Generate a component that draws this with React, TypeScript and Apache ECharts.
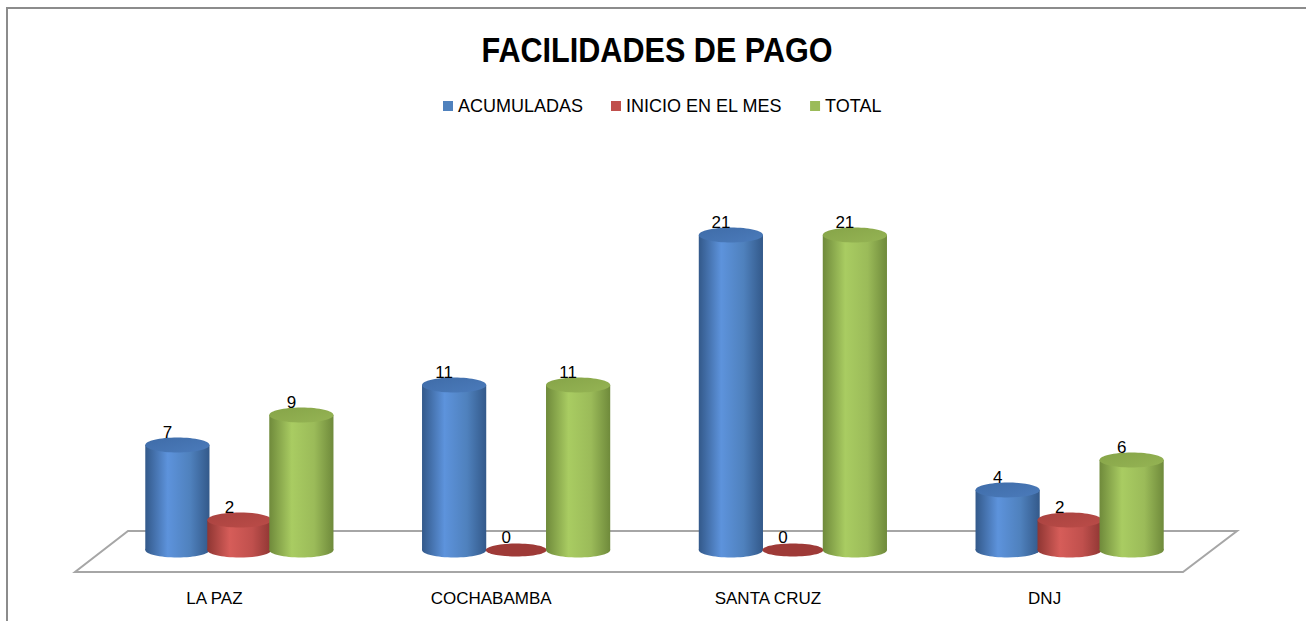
import React, { useEffect, useRef } from "react";
import * as echarts from "echarts";

const titleText = "FACILIDADES DE PAGO";
const categories = ["LA PAZ", "COCHABAMBA", "SANTA CRUZ", "DNJ"];
const seriesNames = ["ACUMULADAS", "INICIO EN EL MES", "TOTAL"];
const acumuladas = [7, 11, 21, 4];
const inicioEnElMes = [2, 0, 0, 2];
const total = [9, 11, 21, 6];

const seriesValues = [acumuladas, inicioEnElMes, total];

const palettes = [
  { base: "#4F81BD", light: "#5d93dc", dark: "#33598a", top: "#3f6ca8", topLight: "#4b7bbb", zero: "#3a64a0" },
  { base: "#C0504D", light: "#d65d59", dark: "#8f3633", top: "#a8423f", topLight: "#bb4c48", zero: "#9e3a37" },
  { base: "#9BBB59", light: "#a9cc62", dark: "#6f8a3b", top: "#86a448", topLight: "#95b454", zero: "#7f9a44" },
];

const FONT = "'Liberation Sans', Arial, sans-serif";

function makeRenderItem(s: number) {
  const p = palettes[s];
  return (params: any, api: any) => {
    const cat = api.value(0);
    const val = api.value(1);
    const base = api.coord([cat, 0]);
    const top = api.coord([cat, val]);
    const band = api.size([1, 0])[0];
    const step = band * 0.224;
    const w = band * 0.232;
    const cx = base[0] + (s - 1) * step;
    const baseY = base[1];
    const topY = top[1];
    const rx = w / 2;
    const ry = 7.5;
    const children: any[] = [];
    if (val > 0) {
      const bodyFill = new echarts.graphic.LinearGradient(0, 0, 1, 0, [
        { offset: 0, color: p.dark },
        { offset: 0.35, color: p.light },
        { offset: 0.7, color: p.base },
        { offset: 1, color: p.dark },
      ]);
      children.push({
        type: "ellipse",
        shape: { cx, cy: baseY, rx, ry },
        style: { fill: bodyFill },
      });
      children.push({
        type: "rect",
        shape: { x: cx - rx, y: topY, width: w, height: baseY - topY },
        style: { fill: bodyFill },
      });
      children.push({
        type: "ellipse",
        shape: { cx, cy: topY, rx, ry },
        style: {
          fill: new echarts.graphic.LinearGradient(0, 0, 1, 1, [
            { offset: 0, color: p.top },
            { offset: 1, color: p.topLight },
          ]),
        },
      });
    } else {
      children.push({
        type: "ellipse",
        shape: { cx, cy: baseY, rx: rx * 0.95, ry: 6.5 },
        style: { fill: p.zero },
      });
    }
    children.push({
      type: "text",
      x: cx - 10,
      y: topY - 13,
      style: {
        text: String(val),
        fill: "#000",
        font: `17px ${FONT}`,
        align: "center",
        verticalAlign: "middle",
      },
    });
    return { type: "group", children };
  };
}

export default function App() {
  const ref = useRef<HTMLDivElement>(null);
  useEffect(() => {
    if (!ref.current) return;
    const chart = echarts.init(ref.current, null, { renderer: "svg" });
    chart.setOption({
      animation: false,
      backgroundColor: "#ffffff",
      legend: {
        left: 438,
        top: 92,
        itemWidth: 10,
        itemHeight: 10,
        itemGap: 28,
        icon: "rect",
        data: seriesNames,
        textStyle: { fontSize: 18, color: "#000", fontFamily: FONT },
      },
      grid: { left: 101, right: 98, top: 100, bottom: 71 },
      xAxis: {
        type: "category",
        data: categories,
        axisLine: { show: false },
        axisTick: { show: false },
        splitLine: { show: false },
        axisLabel: {
          margin: 40,
          fontSize: 17,
          color: "#000",
          fontFamily: FONT,
          padding: [0, 50, 0, 0],
        },
      },
      yAxis: {
        type: "value",
        min: 0,
        max: 30,
        show: false,
      },
      graphic: [
        {
          type: "polyline",
          z: 0,
          shape: { points: [[7, 640], [7, 8], [1320, 8]] },
          style: { stroke: "#8c8c8c", lineWidth: 2, fill: "none" },
        },
        {
          type: "text",
          z: 10,
          x: 657,
          y: 50,
          scaleX: 0.85,
          style: {
            text: titleText,
            font: `bold 36px ${FONT}`,
            fill: "#000",
            align: "center",
            verticalAlign: "middle",
          },
        },
        {
          type: "polygon",
          z: 0,
          shape: { points: [[128, 531], [1237, 531], [1183, 572], [75, 572]] },
          style: { stroke: "#a6a6a6", lineWidth: 2, fill: "#ffffff" },
        },
      ],
      series: seriesNames.map((name, s) => ({
        name,
        type: "custom",
        z: 5,
        itemStyle: { color: palettes[s].base },
        renderItem: makeRenderItem(s),
        encode: { x: 0, y: 1 },
        data: categories.map((_, i) => [i, seriesValues[s][i]]),
      })),
    });
    return () => chart.dispose();
  }, []);
  return (
    <div
      ref={ref}
      style={{ position: "fixed", left: 0, top: 0, width: 1306, height: 621 }}
    />
  );
}
